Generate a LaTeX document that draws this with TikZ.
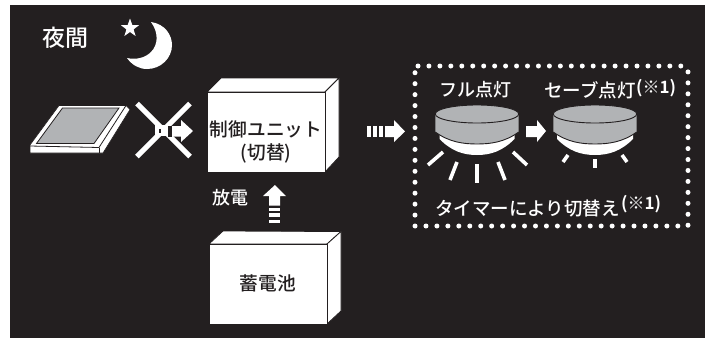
\documentclass[tikz,border=0pt]{standalone}
\usepackage{fontspec}
\setmainfont{Noto Sans CJK JP}
\newfontfamily\jpfont{Noto Sans CJK JP Medium}
\newfontfamily\jpbold{Noto Sans CJK JP Bold}
\newfontfamily\jppalt[RawFeature=+palt]{Noto Sans CJK JP Medium}
\definecolor{ink}{HTML}{231F20}
\definecolor{lampgray}{HTML}{B1B3B5}
\tikzset{
  wlabel/.style={text=white,inner sep=0pt,font=\jpfont},
  dlabel/.style={text=ink,inner sep=0pt,font=\jpfont},
  boxface/.style={fill=white,draw=ink,line width=0.8pt,line join=round},
  ray/.style={draw=white,line width=3.6pt},
  crossbar/.style={draw=white,line width=5pt},
  lampout/.style={draw=ink,line width=0.9pt},
}
\newcommand{\fs}[1]{\fontsize{#1pt}{#1pt}\selectfont}
\newcommand{\lamp}[3]{% cx, dome half width, name
  \fill[white] (#1-#2,139) .. controls (#1-#2+12,151) and (#1-14,155) .. (#1,155) .. controls (#1+14,155) and (#1+#2-12,151) .. (#1+#2,139) -- (#1+#2,132) -- (#1-#2,132) -- cycle;
  \fill[lampgray] (#1-41.7,114) -- (#1-41.7,132) .. controls (#1-28,142) and (#1-14,144) .. (#1,144) .. controls (#1+14,144) and (#1+28,142) .. (#1+41.7,132) -- (#1+41.7,114) -- cycle;
  \draw[lampout] (#1-41.7,132) .. controls (#1-28,142) and (#1-14,144) .. (#1,144) .. controls (#1+14,144) and (#1+28,142) .. (#1+41.7,132);
  \draw[lampout,fill=lampgray] (#1,114) ellipse [x radius=41.7,y radius=9];
}
\begin{document}
\begin{tikzpicture}[x=1pt,y=-1pt]
\useasboundingbox (0,0) rectangle (705,338);
\fill[white] (0,0) rectangle (705,338);
\fill[ink] (10,5) rectangle (705,338);

% title, star, moon
\node[wlabel,font=\jpfont\fs{23}] (title) at (65.5,38) {夜間};
\fill[white] (130,18.5) -- (132.3,25) -- (139,25.2) -- (133.6,29.4) -- (135.6,36) -- (130,32) -- (124.4,36) -- (126.4,29.4) -- (121,25.2) -- (127.7,25) -- cycle;
\fill[white] (151,22) .. controls (165,24) and (172,35) .. (172,45)
  .. controls (172,58) and (161,69) .. (147,69)
  .. controls (139,69) and (132,65) .. (127,58)
  .. controls (136,60) and (145,58) .. (151,52)
  .. controls (158,45) and (159,33) .. (151,22) -- cycle;

% solar panel
\fill[white,draw=ink,line width=.6pt,line join=round] (30,145) -- (59,105.5) -- (126,105.5) -- (130,109.5) -- (103,153) -- (30,153) -- cycle;
\draw[ink,line width=.8pt] (30,146) -- (99,147.5) -- (126,105.5);
\draw[ink,line width=.8pt] (99,147.5) -- (99,153);
\fill[lampgray,draw=ink,line width=.8pt] (62.5,108) -- (119,108) -- (94,143.5) -- (36.5,143.5) -- cycle;

% blocked arrow
\draw[crossbar] (137,103.5) -- (190,156.5);
\draw[crossbar] (190,103.5) -- (137,156.5);
\fill[white] (155,125) rectangle (168,136);
\fill[ink] (158.5,129) rectangle (160.5,133);
\fill[ink] (168,126) rectangle (172,136.5);
\fill[white] (172,126) -- (181,126) -- (181,120) -- (193,131) -- (181,142) -- (181,136.5) -- (172,136.5) -- cycle;

% control unit
\filldraw[boxface] (207,92) -- (221,78) -- (339,78) -- (325,92) -- cycle;
\filldraw[boxface] (325,92) -- (339,78) -- (339,157) -- (325,172) -- cycle;
\filldraw[boxface] (207,92) rectangle (325,172);
\node[dlabel,font=\jpfont\fs{18.7}] (unit) at (266,129) {制御ユニット};
\node[dlabel,font=\jppalt\fs{18.7}] (switch) at (266,153) {(切替)};

% discharge
\node[wlabel,font=\jpfont\fs{18}] (discharge) at (230,198) {放電};
\fill[white] (275,185) -- (286,196) -- (280,196) -- (280,205.5) -- (269,205.5) -- (269,196) -- (263,196) -- cycle;
\fill[white] (269,207.5) rectangle (280,211);
\fill[white] (269,213) rectangle (280,217);
\fill[white] (269,219.5) rectangle (280,223);

% battery
\filldraw[boxface] (209,244) -- (223,231) -- (341,231.5) -- (327,244) -- cycle;
\filldraw[boxface] (327,244) -- (341,231.5) -- (341,311) -- (327,324) -- cycle;
\filldraw[boxface] (209,244) rectangle (327,324);
\node[dlabel,font=\jpfont\fs{18.7}] (battery) at (268,283) {蓄電池};

% output arrow
\fill[white] (367,126) rectangle (371,137);
\fill[white] (373,126) rectangle (376.5,137);
\fill[white] (378.5,126) rectangle (383,137);
\fill[white] (385,126) -- (394,126) -- (394,120) -- (405,131.5) -- (394,142) -- (394,137) -- (385,137) -- cycle;

% dotted frame
\draw[white,line width=5pt,line cap=round,dash pattern=on 0pt off 10.95pt]
  (418,66) -- (683,66) -- (688,69) -- (688,222) -- (688,226) -- (415,226) -- (415,70) -- cycle;

% lamps
\node[wlabel,font=\jpfont\fs{18}] (full) at (475,90) {フル点灯};
\node[wlabel,font=\jpfont\fs{18.5},anchor=east] (save) at (636,90) {セーブ点灯};
\node[wlabel,font=\jpbold\fs{17},anchor=west] (note1) at (636,88) {(※1)};
\lamp{477}{37.5}{a}
\lamp{595}{38}{b}
\fill[white] (526,126) -- (537,126) -- (537,120) -- (546,131) -- (537,142) -- (537,137) -- (526,137) -- cycle;
\draw[ray] (443,152) -- (428,165);
\draw[ray] (457,162) -- (450,180);
\draw[ray] (477,164) -- (477,183);
\draw[ray] (498,162) -- (505,180);
\draw[ray] (513,152) -- (527,165);
\draw[ray] (568,155) -- (563,162);
\draw[ray] (595,159) -- (595,168);
\draw[ray] (622,155) -- (627,162);

\node[wlabel,font=\jpfont\fs{18.5},anchor=east] (timer) at (620,209) {タイマーにより切替え};
\node[wlabel,font=\jpbold\fs{17},anchor=west] (note2) at (621,204) {(※1)};
\end{tikzpicture}
\end{document}
